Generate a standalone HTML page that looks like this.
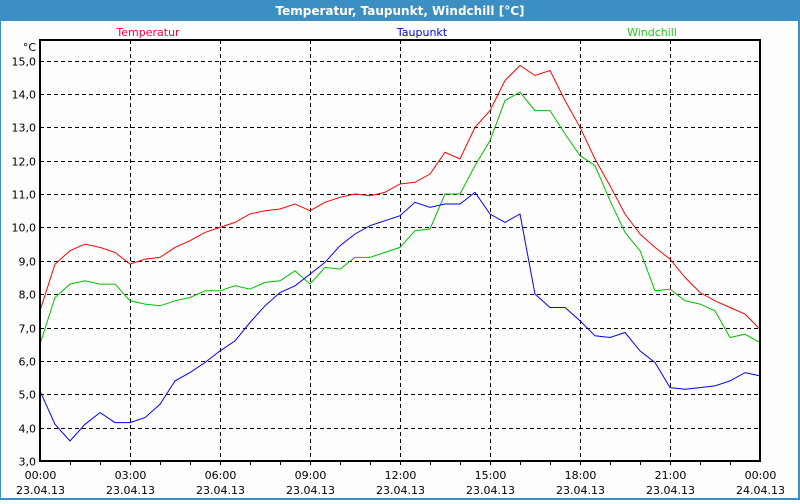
<!DOCTYPE html>
<html><head><meta charset="utf-8"><style>
body{margin:0;width:800px;height:500px;overflow:hidden;background:#fff;font-family:"DejaVu Sans","Liberation Sans",sans-serif}
</style></head><body>
<svg width="800" height="500" xmlns="http://www.w3.org/2000/svg">
<rect x="0" y="0" width="800" height="500" fill="#3c8fc3"/>
<rect x="1" y="21" width="797" height="477" fill="#fdfefd"/>
<text x="400" y="15" text-anchor="middle" font-size="12" font-weight="bold" fill="#fff">Temperatur, Taupunkt, Windchill [°C]</text>
<text x="148" y="36" text-anchor="middle" font-size="11" fill="#ff0040">Temperatur</text>
<text x="422" y="36" text-anchor="middle" font-size="11" fill="#0000ff">Taupunkt</text>
<text x="652" y="36" text-anchor="middle" font-size="11" fill="#20cc20">Windchill</text>
<text x="36" y="51" text-anchor="end" font-size="11" fill="#000">°C</text>
<g id="grid"></g>
<g id="series"></g>
<rect x="40" y="40" width="720" height="421" fill="none" stroke="#000" stroke-width="2"/>
<g id="axes"></g>
</svg>
<script>
const yTicks=[3,4,5,6,7,8,9,10,11,12,13,14,15];
const xTickHours=[0,3,6,9,12,15,18,21,24];
const xTimeLabels=["00:00","03:00","06:00","09:00","12:00","15:00","18:00","21:00","00:00"];
const xDateLabels=["23.04.13","23.04.13","23.04.13","23.04.13","23.04.13","23.04.13","23.04.13","23.04.13","24.04.13"];
const temperatur=[7.5,8.9,9.3,9.5,9.4,9.25,8.9,9.05,9.1,9.4,9.6,9.85,10.0,10.15,10.4,10.5,10.55,10.7,10.5,10.75,10.9,11.0,10.95,11.05,11.3,11.35,11.6,12.25,12.05,13.0,13.5,14.4,14.85,14.55,14.7,13.8,13.0,12.05,11.25,10.4,9.8,9.4,9.05,8.5,8.05,7.8,7.6,7.4,6.95];
const taupunkt=[5.1,4.1,3.6,4.1,4.45,4.15,4.15,4.3,4.7,5.4,5.65,5.95,6.3,6.6,7.15,7.65,8.05,8.25,8.6,8.95,9.45,9.8,10.05,10.2,10.35,10.75,10.6,10.7,10.7,11.05,10.4,10.15,10.4,8.0,7.6,7.6,7.2,6.75,6.7,6.85,6.3,5.95,5.2,5.15,5.2,5.25,5.4,5.65,5.55];
const windchill=[6.5,7.9,8.3,8.4,8.3,8.3,7.8,7.7,7.65,7.8,7.9,8.1,8.1,8.25,8.15,8.35,8.4,8.7,8.3,8.8,8.75,9.1,9.1,9.25,9.4,9.9,9.95,11.0,11.0,11.85,12.6,13.8,14.05,13.5,13.5,12.8,12.15,11.85,10.8,9.85,9.3,8.1,8.15,7.8,7.7,7.5,6.7,6.8,6.55];
const NS="http://www.w3.org/2000/svg";
const X0=40,X1=760,Y0=461,YT=60.5;
function xScale(h){return X0+(X1-X0)*h/24;}
function yScale(v){return Y0-(v-3)*(Y0-YT)/12;}
function mk(tag,attrs,parent){const e=document.createElementNS(NS,tag);for(const k in attrs)e.setAttribute(k,attrs[k]);parent.appendChild(e);return e;}
const grid=document.getElementById('grid'),axes=document.getElementById('axes'),series=document.getElementById('series');
yTicks.forEach(v=>{
  const y=Math.round(yScale(v))+0.5;
  if(v>3){const l=mk('line',{x1:X0,x2:X1,y1:y,y2:y,stroke:'#000','stroke-dasharray':'4,3'},grid);
  
  }
  const t=mk('text',{x:36,y:y+4,'text-anchor':'end','font-size':11,fill:'#000'},axes);
  t.textContent=v.toFixed(1).replace('.',',');
  
  
});
for(let h=1;h<24;h++){
  const x=Math.round(xScale(h))+0.5;
  const tk=mk('line',{x1:x,x2:x,y1:Y0,y2:Y0+4,stroke:'#000'},axes);
  
  
}
xTickHours.forEach((h,i)=>{
  const x=Math.round(xScale(h))+0.5;
  if(h>0&&h<24){const l=mk('line',{x1:x,x2:x,y1:40,y2:Y0+5,stroke:'#000','stroke-dasharray':'4,3'},grid);
  
  }
  const t1=mk('text',{x:x,y:479,'text-anchor':'middle','font-size':11,fill:'#000'},axes);
  t1.textContent=xTimeLabels[i];
  
  
  const t2=mk('text',{x:x,y:494,'text-anchor':'middle','font-size':11,fill:'#000'},axes);
  t2.textContent=xDateLabels[i];
  
  
});
function line(data,color,name){
  const pts=data.map((v,i)=>xScale(i*24/(data.length-1)).toFixed(1)+','+yScale(v).toFixed(1)).join(' ');
  const p=mk('polyline',{points:pts,fill:'none',stroke:color,'stroke-width':1},series);
  
  
}
line(windchill,'#00c000','windchill-line');
line(taupunkt,'#0000ff','taupunkt-line');
line(temperatur,'#ff0000','temperatur-line');
</script>
</body></html>
